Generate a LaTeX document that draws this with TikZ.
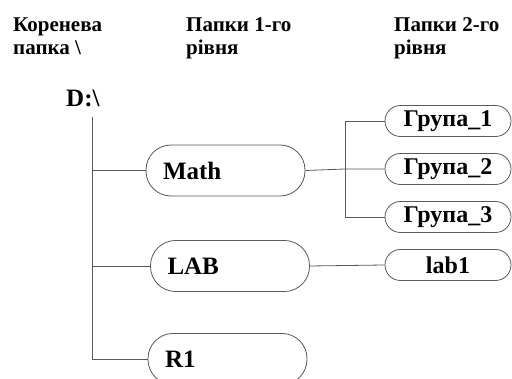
\documentclass[tikz,border=0pt]{standalone}
\usepackage{fontspec}
\setmainfont{Liberation Serif}
\begin{document}
\begin{tikzpicture}[x=1pt,y=-1pt,
  conn/.style={draw=black!65,line width=0.8pt},
  bigbox/.style={draw=black!65,line width=0.8pt,rounded corners=25pt,minimum height=51pt,
    inner xsep=17pt,inner ysep=0pt,text width=125pt,align=left,
    font=\fontsize{25}{28}\selectfont\bfseries},
  smallbox/.style={draw=black!65,line width=0.8pt,rounded corners=15.5pt,minimum height=31pt,
    minimum width=126pt,inner sep=0pt,align=center,
    font=\fontsize{24}{28}\selectfont\bfseries},
  head/.style={anchor=base west,align=left,inner sep=0pt,
    font=\fontsize{21}{23}\selectfont\bfseries}]
\clip (0,0) rectangle (512,379);
\fill[white] (0,0) rectangle (512,379);
% headers
\node[head] (h0) at (13,55) {Коренева\\папка \textbackslash};
\node[head] (h1) at (186,55) {Папки 1-го\\рівня};
\node[head] (h2) at (394,55) {Папки 2-го\\рівня};
% root
\node[anchor=base west,inner sep=0pt,font=\fontsize{25}{28}\selectfont\bfseries] (root) at (66,107) {D:\textbackslash};
\coordinate (top) at (92,117);
\coordinate (bot) at (92,359);
% level 1
\node[bigbox] (math) at (225.5,170.5) {Math};
\node[bigbox] (lab) at (230,266) {LAB};
\node[bigbox] (r1) at (227.5,359) {R1};
% level 2
\node[smallbox] (g1) at (448,121) {Група\_1};
\node[smallbox] (g2) at (448,169) {Група\_2};
\node[smallbox] (g3) at (448,217) {Група\_3};
\node[smallbox] (l1) at (448,265) {lab1};
% connectors
\draw[conn] (top) -- (bot);
\draw[conn] (92,0 |- math.west) -- (math.west);
\draw[conn] (92,0 |- lab.west) -- (lab.west);
\draw[conn] (bot) -- (r1.west);
\coordinate (j) at (345,169);
\draw[conn] (math.east) -- (j) -- (g2.west);
\draw[conn] (g1.west) -| (j);
\draw[conn] (g3.west) -| (j);
\draw[conn] (lab.east) -- (l1.west);
\end{tikzpicture}
\end{document}
